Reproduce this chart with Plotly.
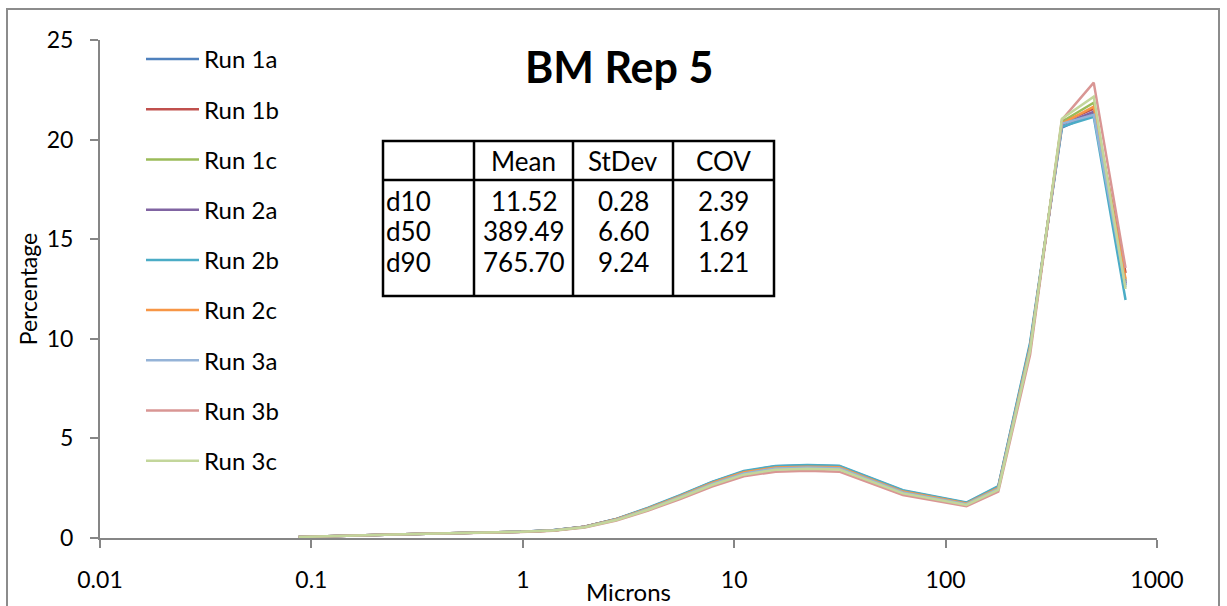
import plotly.graph_objects as go

# ---------------- data ----------------
microns = [0.087, 0.123, 0.174, 0.246, 0.348, 0.49, 0.69, 0.98, 1.39, 1.96, 2.77, 3.92,
           5.55, 7.85, 11.1, 15.7, 22.2, 31.4, 62.8, 125.5, 177.5, 251, 355, 502, 710]

run_1a = [0.05, 0.08, 0.12, 0.17, 0.21, 0.24, 0.27, 0.31, 0.39, 0.57, 0.95, 1.50,
          2.13, 2.80, 3.33, 3.60, 3.64, 3.60, 2.37, 1.76, 2.57, 9.70, 20.60, 21.30, 12.70]
run_1b = [0.05, 0.08, 0.12, 0.17, 0.21, 0.24, 0.27, 0.31, 0.38, 0.56, 0.93, 1.46,
          2.07, 2.72, 3.25, 3.50, 3.55, 3.51, 2.30, 1.71, 2.48, 9.50, 20.85, 21.55, 13.30]
run_1c = [0.05, 0.08, 0.12, 0.17, 0.21, 0.24, 0.27, 0.31, 0.38, 0.55, 0.92, 1.45,
          2.05, 2.70, 3.23, 3.48, 3.53, 3.49, 2.29, 1.70, 2.46, 9.45, 20.90, 21.85, 12.90]
run_2a = [0.05, 0.08, 0.12, 0.17, 0.21, 0.24, 0.27, 0.31, 0.39, 0.56, 0.94, 1.48,
          2.10, 2.76, 3.29, 3.55, 3.59, 3.56, 2.34, 1.74, 2.53, 9.60, 20.75, 21.40, 12.80]
run_2b = [0.05, 0.08, 0.12, 0.17, 0.21, 0.24, 0.27, 0.31, 0.39, 0.57, 0.96, 1.52,
          2.15, 2.82, 3.36, 3.62, 3.66, 3.63, 2.40, 1.78, 2.60, 9.80, 20.65, 21.15, 11.95]
run_2c = [0.05, 0.08, 0.12, 0.17, 0.21, 0.24, 0.27, 0.31, 0.38, 0.56, 0.94, 1.48,
          2.10, 2.77, 3.30, 3.54, 3.58, 3.55, 2.33, 1.73, 2.52, 9.60, 20.80, 21.65, 13.00]
run_3a = [0.05, 0.08, 0.12, 0.17, 0.21, 0.24, 0.27, 0.31, 0.38, 0.55, 0.92, 1.45,
          2.06, 2.72, 3.24, 3.49, 3.54, 3.50, 2.29, 1.70, 2.47, 9.50, 20.80, 21.25, 12.60]
run_3b = [0.05, 0.08, 0.12, 0.17, 0.21, 0.24, 0.27, 0.30, 0.37, 0.53, 0.88, 1.38,
          1.96, 2.58, 3.10, 3.33, 3.38, 3.33, 2.16, 1.60, 2.33, 9.20, 21.00, 22.86, 13.55]
run_3c = [0.05, 0.08, 0.12, 0.17, 0.21, 0.24, 0.27, 0.31, 0.38, 0.54, 0.90, 1.42,
          2.02, 2.66, 3.18, 3.43, 3.48, 3.44, 2.24, 1.66, 2.42, 9.40, 21.05, 22.15, 12.50]

run_names = ["Run 1a", "Run 1b", "Run 1c", "Run 2a", "Run 2b", "Run 2c", "Run 3a", "Run 3b", "Run 3c"]
run_values = [run_1a, run_1b, run_1c, run_2a, run_2b, run_2c, run_3a, run_3b, run_3c]
run_colors = ["#4F81BD", "#C0504D", "#9BBB59", "#8064A2", "#4BACC6",
              "#F79646", "#95B3D7", "#D99694", "#C3D69B"]

x_tick_vals = [0.01, 0.1, 1, 10, 100, 1000]
x_tick_text = ["0.01", "0.1", "1", "10", "100", "1000"]
y_tick_vals = [0, 5, 10, 15, 20, 25]

table_header = ["", "Mean", "StDev", "COV"]
table_labels = ["d10", "d50", "d90"]
table_mean = ["11.52", "389.49", "765.70"]
table_stdev = ["0.28", "6.60", "9.24"]
table_cov = ["2.39", "1.69", "1.21"]

# ---------------- layout helpers (pixel -> paper) ----------------
W, H = 1227, 606
ML, MR, MT, MB = 100, 70, 40, 68
PW, PH = W - ML - MR, H - MT - MB


def px(x):
    return (x - ML) / PW


def py(y):
    return (H - MB - y) / PH


FONT = "Lato, 'Open Sans', sans-serif"

fig = go.Figure()
for i, (name, vals, col) in enumerate(zip(run_names, run_values, run_colors)):
    fig.add_trace(go.Scatter(
        x=microns, y=vals, name=name, mode="lines",
        line=dict(color=col, width=2.5), legendgroup=f"g{i}",
    ))

shapes = []
annotations = []

# outer chart border
shapes.append(dict(type="rect", xref="paper", yref="paper",
                   x0=px(7), x1=px(1219), y0=py(620), y1=py(9),
                   line=dict(color="#8C8C8C", width=2), layer="below"))

# stats table
tx = [383, 474, 573, 673, 774]
ty_top, ty_head, ty_bot = 141, 180, 296
shapes.append(dict(type="rect", xref="paper", yref="paper",
                   x0=px(tx[0]), x1=px(tx[-1]), y0=py(ty_bot), y1=py(ty_top),
                   line=dict(color="black", width=2.5), fillcolor="white"))
for cx in tx[1:-1]:
    shapes.append(dict(type="line", xref="paper", yref="paper",
                       x0=px(cx), x1=px(cx), y0=py(ty_bot), y1=py(ty_top),
                       line=dict(color="black", width=2.5)))
shapes.append(dict(type="line", xref="paper", yref="paper",
                   x0=px(tx[0]), x1=px(tx[-1]), y0=py(ty_head), y1=py(ty_head),
                   line=dict(color="black", width=2.5)))

TFS = 26
for j, h in enumerate(table_header):
    if h:
        annotations.append(dict(text=h, xref="paper", yref="paper",
                                x=px((tx[j] + tx[j + 1]) / 2), y=py(161),
                                showarrow=False, xanchor="center", yanchor="middle",
                                font=dict(size=TFS, color="black", family=FONT)))
row_y = [201, 231, 262]
for r, lab in enumerate(table_labels):
    annotations.append(dict(text=lab, xref="paper", yref="paper",
                            x=px(tx[0] + 1), y=py(row_y[r]),
                            showarrow=False, xanchor="left", yanchor="middle",
                            font=dict(size=TFS, color="black", family=FONT)))
    for j, col in enumerate([table_mean, table_stdev, table_cov]):
        annotations.append(dict(text=col[r], xref="paper", yref="paper",
                                x=px((tx[j + 1] + tx[j + 2]) / 2), y=py(row_y[r]),
                                showarrow=False, xanchor="center", yanchor="middle",
                                font=dict(size=TFS, color="black", family=FONT)))

# title
annotations.append(dict(text="<b>BM Rep 5</b>", xref="paper", yref="paper",
                        x=px(619), y=py(66), showarrow=False,
                        xanchor="center", yanchor="middle",
                        font=dict(size=43, color="black", family=FONT)))

fig.update_layout(
    width=W, height=H,
    margin=dict(l=ML, r=MR, t=MT, b=MB, pad=0),
    paper_bgcolor="white", plot_bgcolor="white",
    font=dict(family=FONT, size=23, color="black"),
    showlegend=True,
    legend=dict(x=px(141), y=py(37), xanchor="left", yanchor="top",
                font=dict(size=24, color="black", family=FONT),
                tracegroupgap=16, bgcolor="rgba(0,0,0,0)", itemwidth=53,
                maxheight=600),
    xaxis=dict(type="log", range=[-2, 3], tickvals=x_tick_vals, ticktext=x_tick_text,
               showgrid=False, zeroline=False, showline=True, linecolor="#868686",
               linewidth=2, ticks="outside", ticklen=8, tickcolor="#868686", tickwidth=2,
               ticklabelstandoff=12, automargin=False,
               tickfont=dict(size=23, family=FONT, color="black"),
               title=dict(text="Microns", font=dict(size=24, family=FONT), standoff=0)),
    yaxis=dict(range=[0, 25], tickvals=y_tick_vals, showgrid=False, zeroline=False,
               showline=True, linecolor="#868686", linewidth=2, ticks="outside",
               ticklen=8, tickcolor="#868686", tickwidth=2, ticklabelstandoff=12,
               automargin=False,
               tickfont=dict(size=23, family=FONT, color="black"),
               title=dict(text="Percentage", font=dict(size=23, family=FONT), standoff=3)),
    shapes=shapes, annotations=annotations,
)

fig.write_html("out.html")
